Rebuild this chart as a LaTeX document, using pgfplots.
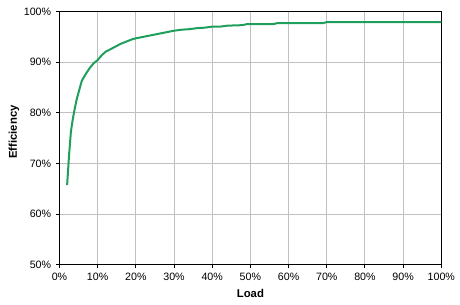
\documentclass[border=0pt]{standalone}
\usepackage{fontspec}
\setmainfont{Liberation Sans}
\usepackage{pgfplots}
\pgfplotsset{compat=1.18}
\definecolor{effgreen}{RGB}{30,160,92}
\definecolor{gridgray}{RGB}{192,192,192}
\begin{document}
\begin{tikzpicture}
\begin{axis}[
  scale only axis,
  width=286.4pt, height=189.9pt,
  xmin=0, xmax=100, ymin=50, ymax=100,
  xtick={0,10,...,100}, ytick={50,60,...,100},
  xticklabel={\pgfmathprintnumber{\tick}\%},
  yticklabel={\pgfmathprintnumber{\tick}\%},
  /pgf/number format/assume math mode=true,
  tick label style={font=\fontsize{8}{9}\selectfont},
  xmajorgrids, ymajorgrids,
  major grid style={gridgray, line width=0.75pt},
  axis line style={black, line width=0.75pt},
  tick align=outside, major tick length=2.7pt,
  tick style={black, line width=0.75pt},
  xtick pos=bottom, ytick pos=left,
  xlabel={Load}, ylabel={Efficiency},
  label style={font=\fontsize{8.5}{10}\selectfont\bfseries},
  x label style={at={(axis description cs:0.5,-0.1137)}, anchor=center},
  y label style={at={(axis description cs:-0.119,0.524)}, anchor=center, rotate=0},
  clip=false,
]
\addplot[effgreen, line width=1.5pt, line join=round] coordinates {
(2,65.7) (2.5,71.5) (3,76.3) (3.5,78.8) (4,80.8) (4.5,82.6) (5,84.0) (5.8,86.2)
(6,86.5) (7,87.8) (8,88.9) (9,89.8) (10,90.4) (11,91.3) (12,92.0)
(13,92.4) (14,92.8) (15,93.2) (16,93.6) (17,93.9) (18,94.2) (19,94.5)
(20,94.7) (22,95.0) (24,95.3) (26,95.6) (28,95.9) (30,96.2) (32,96.4)
(34,96.5) (36,96.7) (38,96.8) (40,97.0) (42,97.0) (44,97.2) (48,97.3)
(49,97.5) (56,97.5) (57,97.7) (69,97.7) (70,97.9) (100,97.9)
};
\end{axis}
\path (-44.6pt,-29.5pt) rectangle (300.4pt,198.5pt);
\end{tikzpicture}
\end{document}
